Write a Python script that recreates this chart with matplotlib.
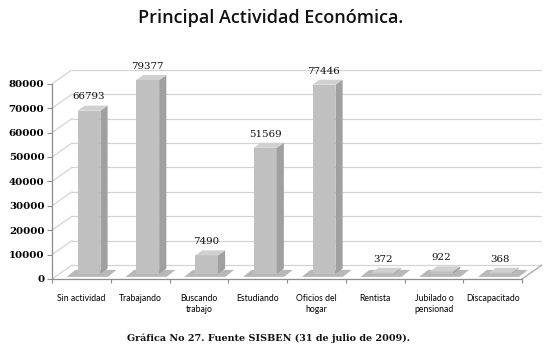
import matplotlib
matplotlib.use("Agg")
import matplotlib.pyplot as plt
from matplotlib.patches import Polygon
import numpy as np

categories = ["Sin actividad", "Trabajando", "Buscando\ntrabajo", "Estudiando",
              "Oficios del\nhogar", "Rentista", "Jubilado o\npensionad", "Discapacitado"]
values = [66793, 79377, 7490, 51569, 77446, 372, 922, 368]
yticks = [0, 10000, 20000, 30000, 40000, 50000, 60000, 70000, 80000]
title = "Principal Actividad Económica."
caption = "Gráfica No 27. Fuente SISBEN (31 de julio de 2009)."

# 3D depth emulation (in data units)
DX = 0.34
DY = 5740
F0, F1 = 0.38, 0.74
W = 0.39
YMAX = 80000

FRONT = "#c0c0c0"
SIDE = "#a0a0a0"
TOP = "#d0d0d0"
GRID = "#d4d4d4"

fig = plt.figure(figsize=(5.54, 3.51), dpi=100)
H = 351.0
left_px, right_px = 52, 542
bottom_px = 279
top_px = bottom_px - (YMAX + DY) * (195.2 / YMAX)
ax = fig.add_axes([left_px / 554, (H - bottom_px) / H, (right_px - left_px) / 554,
                   (bottom_px - top_px) / H])
n = len(categories)
x = np.arange(n)
ax.set_xlim(-0.5, n - 0.5 + DX)
ax.set_ylim(0, YMAX + DY)

# walls / grid
for v in yticks:
    ax.plot([-0.5 + DX, n - 0.5 + DX], [v + DY, v + DY], color=GRID, lw=0.9, zorder=1)
    ax.plot([-0.5, -0.5 + DX], [v, v + DY], color=GRID, lw=0.9, zorder=1)
ax.plot([n - 0.5, n - 0.5 + DX], [0, DY], color="#a8a8a8", lw=0.9, zorder=1)

# floor shadows
for xi, v in zip(x, values):
    b0, b1 = 0.15 * DY, 0.65 * DY
    sh = Polygon([(xi - 0.25, b0), (xi + 0.45, b0), (xi + 0.6, b1), (xi - 0.1, b1)],
                 closed=True, facecolor="#8a8a8a", edgecolor="none", alpha=0.6, zorder=2)
    ax.add_patch(sh)

# bars: front faces
xf = x + F0 * DX
ax.bar(xf, values, width=W, bottom=F0 * DY, color=FRONT, edgecolor="none", zorder=3)
d = F1 - F0
for xc, v in zip(xf, values):
    xl, xr = xc - W / 2, xc + W / 2
    side = Polygon([(xr, F0 * DY), (xr + d * DX, F1 * DY), (xr + d * DX, v + F1 * DY),
                    (xr, v + F0 * DY)], closed=True, facecolor=SIDE, edgecolor="none", zorder=3)
    top = Polygon([(xl, v + F0 * DY), (xr, v + F0 * DY), (xr + d * DX, v + F1 * DY),
                   (xl + d * DX, v + F1 * DY)], closed=True, facecolor=TOP, edgecolor="none", zorder=3)
    ax.add_patch(side)
    ax.add_patch(top)
    ax.annotate(f"{v}", xy=(xc, v + F1 * DY), xytext=(0, 3), textcoords="offset points",
                ha="center", va="bottom", fontsize=7.4, family="DejaVu Serif", color="#111111",
                zorder=5)

# axes
for s in ["top", "right"]:
    ax.spines[s].set_visible(False)
ax.spines["left"].set_bounds(0, YMAX)
ax.spines["bottom"].set_bounds(-0.5, n - 0.5)
for s in ["left", "bottom"]:
    ax.spines[s].set_color("#8c8c8c")
    ax.spines[s].set_linewidth(0.9)
ax.set_yticks(yticks)
ax.set_yticklabels([str(t) for t in yticks], fontsize=7.4, family="DejaVu Serif",
                   fontweight="bold")
ax.tick_params(axis="y", length=3.5, width=0.8, color="#8c8c8c", pad=2)
ax.set_xticks(x)
ax.set_xticklabels(categories, fontsize=6.2, family="Lato", linespacing=1.3)
ax.set_xticks(np.arange(n + 1) - 0.5, minor=True)
ax.tick_params(axis="x", which="major", length=0, pad=11)
ax.tick_params(axis="x", which="minor", length=3, width=0.8, color="#8c8c8c")

fig.text(271 / 554, 1 - 18 / H, title, ha="center", va="center", fontsize=13,
         family="Open Sans", fontweight="semibold", color="#111111")
fig.text(269 / 554, 1 - 338 / H, caption, ha="center", va="center", fontsize=6.9,
         family="DejaVu Serif", fontweight="bold", color="#111111")

fig.savefig("out.png", dpi=100)
